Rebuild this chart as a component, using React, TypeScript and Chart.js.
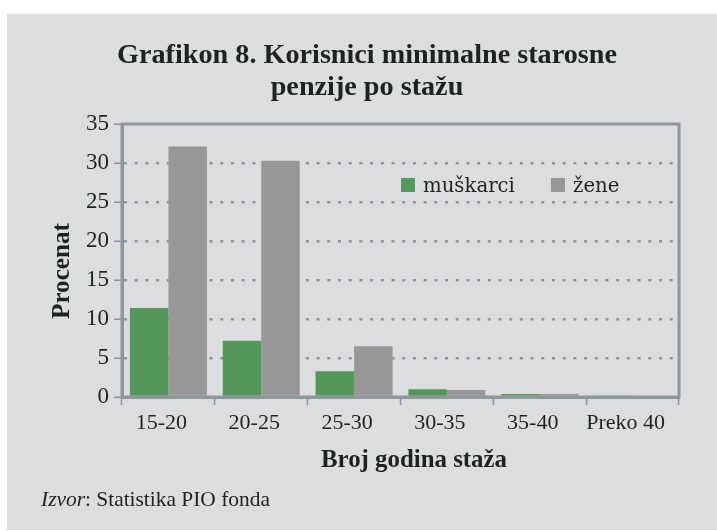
import React, { useEffect, useRef } from 'react';
import { Chart, registerables } from 'chart.js';

Chart.register(...registerables);

const categories = ['15-20', '20-25', '25-30', '30-35', '35-40', 'Preko 40'];
const muskarci = [11.4, 7.2, 3.3, 1.0, 0.4, 0.2];
const zene = [32.1, 30.3, 6.5, 0.9, 0.4, 0.0];
const seriesLabels = ['muškarci', 'žene'];
const yMax = 35;
const yStep = 5;
const titleLines = ['Grafikon 8. Korisnici minimalne starosne', 'penzije po stažu'];
const xTitle = 'Broj godina staža';
const yTitle = 'Procenat';
const sourceLabel = 'Izvor';
const sourceText = ': Statistika PIO fonda';

const GREEN = '#54975b';
const GRAY = '#979797';
const BG = '#dcdddf';
const AXIS = '#8d989a';
const TICK = '#8a93ad';
const TEXT = '#1c2323';
const SERIF = '"Liberation Serif", "Times New Roman", serif';
const SERIF2 = '"DejaVu Serif", "Liberation Serif", serif';

function fitFont(ctx: CanvasRenderingContext2D, text: string, style: string, family: string, target: number) {
  ctx.font = `${style} 100px ${family}`;
  const w = ctx.measureText(text).width;
  const size = (100 * target) / w;
  return `${style} ${size.toFixed(2)}px ${family}`;
}

const textPlugin = {
  id: 'customTexts',
  afterDraw(chart: any) {
    const ctx = chart.ctx as CanvasRenderingContext2D;
    const ca = chart.chartArea;
    ctx.save();
    // plot frame
    ctx.strokeStyle = AXIS;
    ctx.lineWidth = 3;
    ctx.strokeRect(ca.left, ca.top, ca.right - ca.left, ca.bottom - ca.top);

    ctx.fillStyle = TEXT;
    // title
    ctx.textAlign = 'center';
    ctx.textBaseline = 'alphabetic';
    ctx.font = fitFont(ctx, titleLines[0], 'bold', SERIF, 500);
    ctx.fillText(titleLines[0], 360, 49);
    ctx.fillText(titleLines[1], 360, 81);

    // x axis title
    ctx.font = fitFont(ctx, xTitle, 'bold', SERIF, 186);
    ctx.fillText(xTitle, 407, 453);

    // y axis title
    ctx.save();
    ctx.translate(55, 257);
    ctx.rotate(-Math.PI / 2);
    ctx.textBaseline = 'middle';
    ctx.font = fitFont(ctx, yTitle, 'bold', SERIF, 96);
    ctx.fillText(yTitle, 0, 0);
    ctx.restore();

    // source
    ctx.textAlign = 'left';
    ctx.font = `italic 100px ${SERIF}`;
    const w1 = ctx.measureText(sourceLabel).width;
    ctx.font = `100px ${SERIF}`;
    const w2 = ctx.measureText(sourceText).width;
    const sz = (100 * 229) / (w1 + w2);
    ctx.font = `italic ${sz.toFixed(2)}px ${SERIF}`;
    ctx.fillText(sourceLabel, 34, 492);
    const w = ctx.measureText(sourceLabel).width;
    ctx.font = `${sz.toFixed(2)}px ${SERIF}`;
    ctx.fillText(sourceText, 34 + w, 492);

    // legend
    const ds = chart.data.datasets;
    const legendX = [394, 544];
    const legendW = [92, 47];
    ds.forEach((d: any, i: number) => {
      ctx.fillStyle = d.backgroundColor;
      ctx.fillRect(legendX[i], 164, 14, 14);
      ctx.fillStyle = TEXT;
      ctx.font = fitFont(ctx, seriesLabels[0], '', SERIF2, legendW[0]);
      ctx.fillText(d.label, legendX[i] + 22, 178);
    });
    ctx.restore();
  },
};

export default function App() {
  const ref = useRef<HTMLCanvasElement>(null);
  useEffect(() => {
    if (!ref.current) return;
    const chart = new Chart(ref.current, {
      type: 'bar',
      data: {
        labels: categories,
        datasets: [
          { label: seriesLabels[0], data: muskarci, backgroundColor: GREEN, borderWidth: 0 },
          { label: seriesLabels[1], data: zene, backgroundColor: GRAY, borderWidth: 0 },
        ],
      },
      options: {
        responsive: false,
        animation: false,
        devicePixelRatio: 1,
        layout: { padding: { left: 55, right: 38, top: 110, bottom: 73 } },
        datasets: { bar: { categoryPercentage: 0.83, barPercentage: 1.0 } },
        plugins: { legend: { display: false }, title: { display: false }, tooltip: { enabled: false } },
        scales: {
          x: {
            afterFit: (s: any) => { s.height = 60; },
            grid: {
              display: true,
              drawOnChartArea: false,
              drawTicks: true,
              tickLength: 8,
              tickColor: TICK,
              tickWidth: 1.5,
              offset: true,
            },
            border: { display: true, color: AXIS, width: 3 },
            ticks: { color: TEXT, font: { family: SERIF, size: 22 }, padding: 5, maxRotation: 0, labelOffset: -7 },
          },
          y: {
            min: 0,
            max: yMax,
            afterFit: (s: any) => { s.width = 60; },
            grid: {
              color: (c: any) => (c.tick && (c.tick.value === 0 || c.tick.value === yMax) ? 'rgba(0,0,0,0)' : AXIS),
              lineWidth: 2.5,
              tickLength: 8,
              tickColor: TICK,
              tickWidth: 1.5,
            },
            border: { display: true, color: AXIS, width: 3, dash: [3, 7.7] },
            ticks: { stepSize: yStep, color: TEXT, font: { family: SERIF, size: 23 }, padding: 5 },
          },
        },
      },
      plugins: [textPlugin],
    });
    return () => chart.destroy();
  }, []);

  return (
    <div style={{ position: 'absolute', left: 0, top: 0, width: 717, height: 531, background: '#fff' }}>
      <div style={{ position: 'absolute', left: 7, top: 14, width: 710, height: 516, background: BG }}>
        <canvas ref={ref} width={710} height={516} style={{ display: 'block' }} />
      </div>
    </div>
  );
}
